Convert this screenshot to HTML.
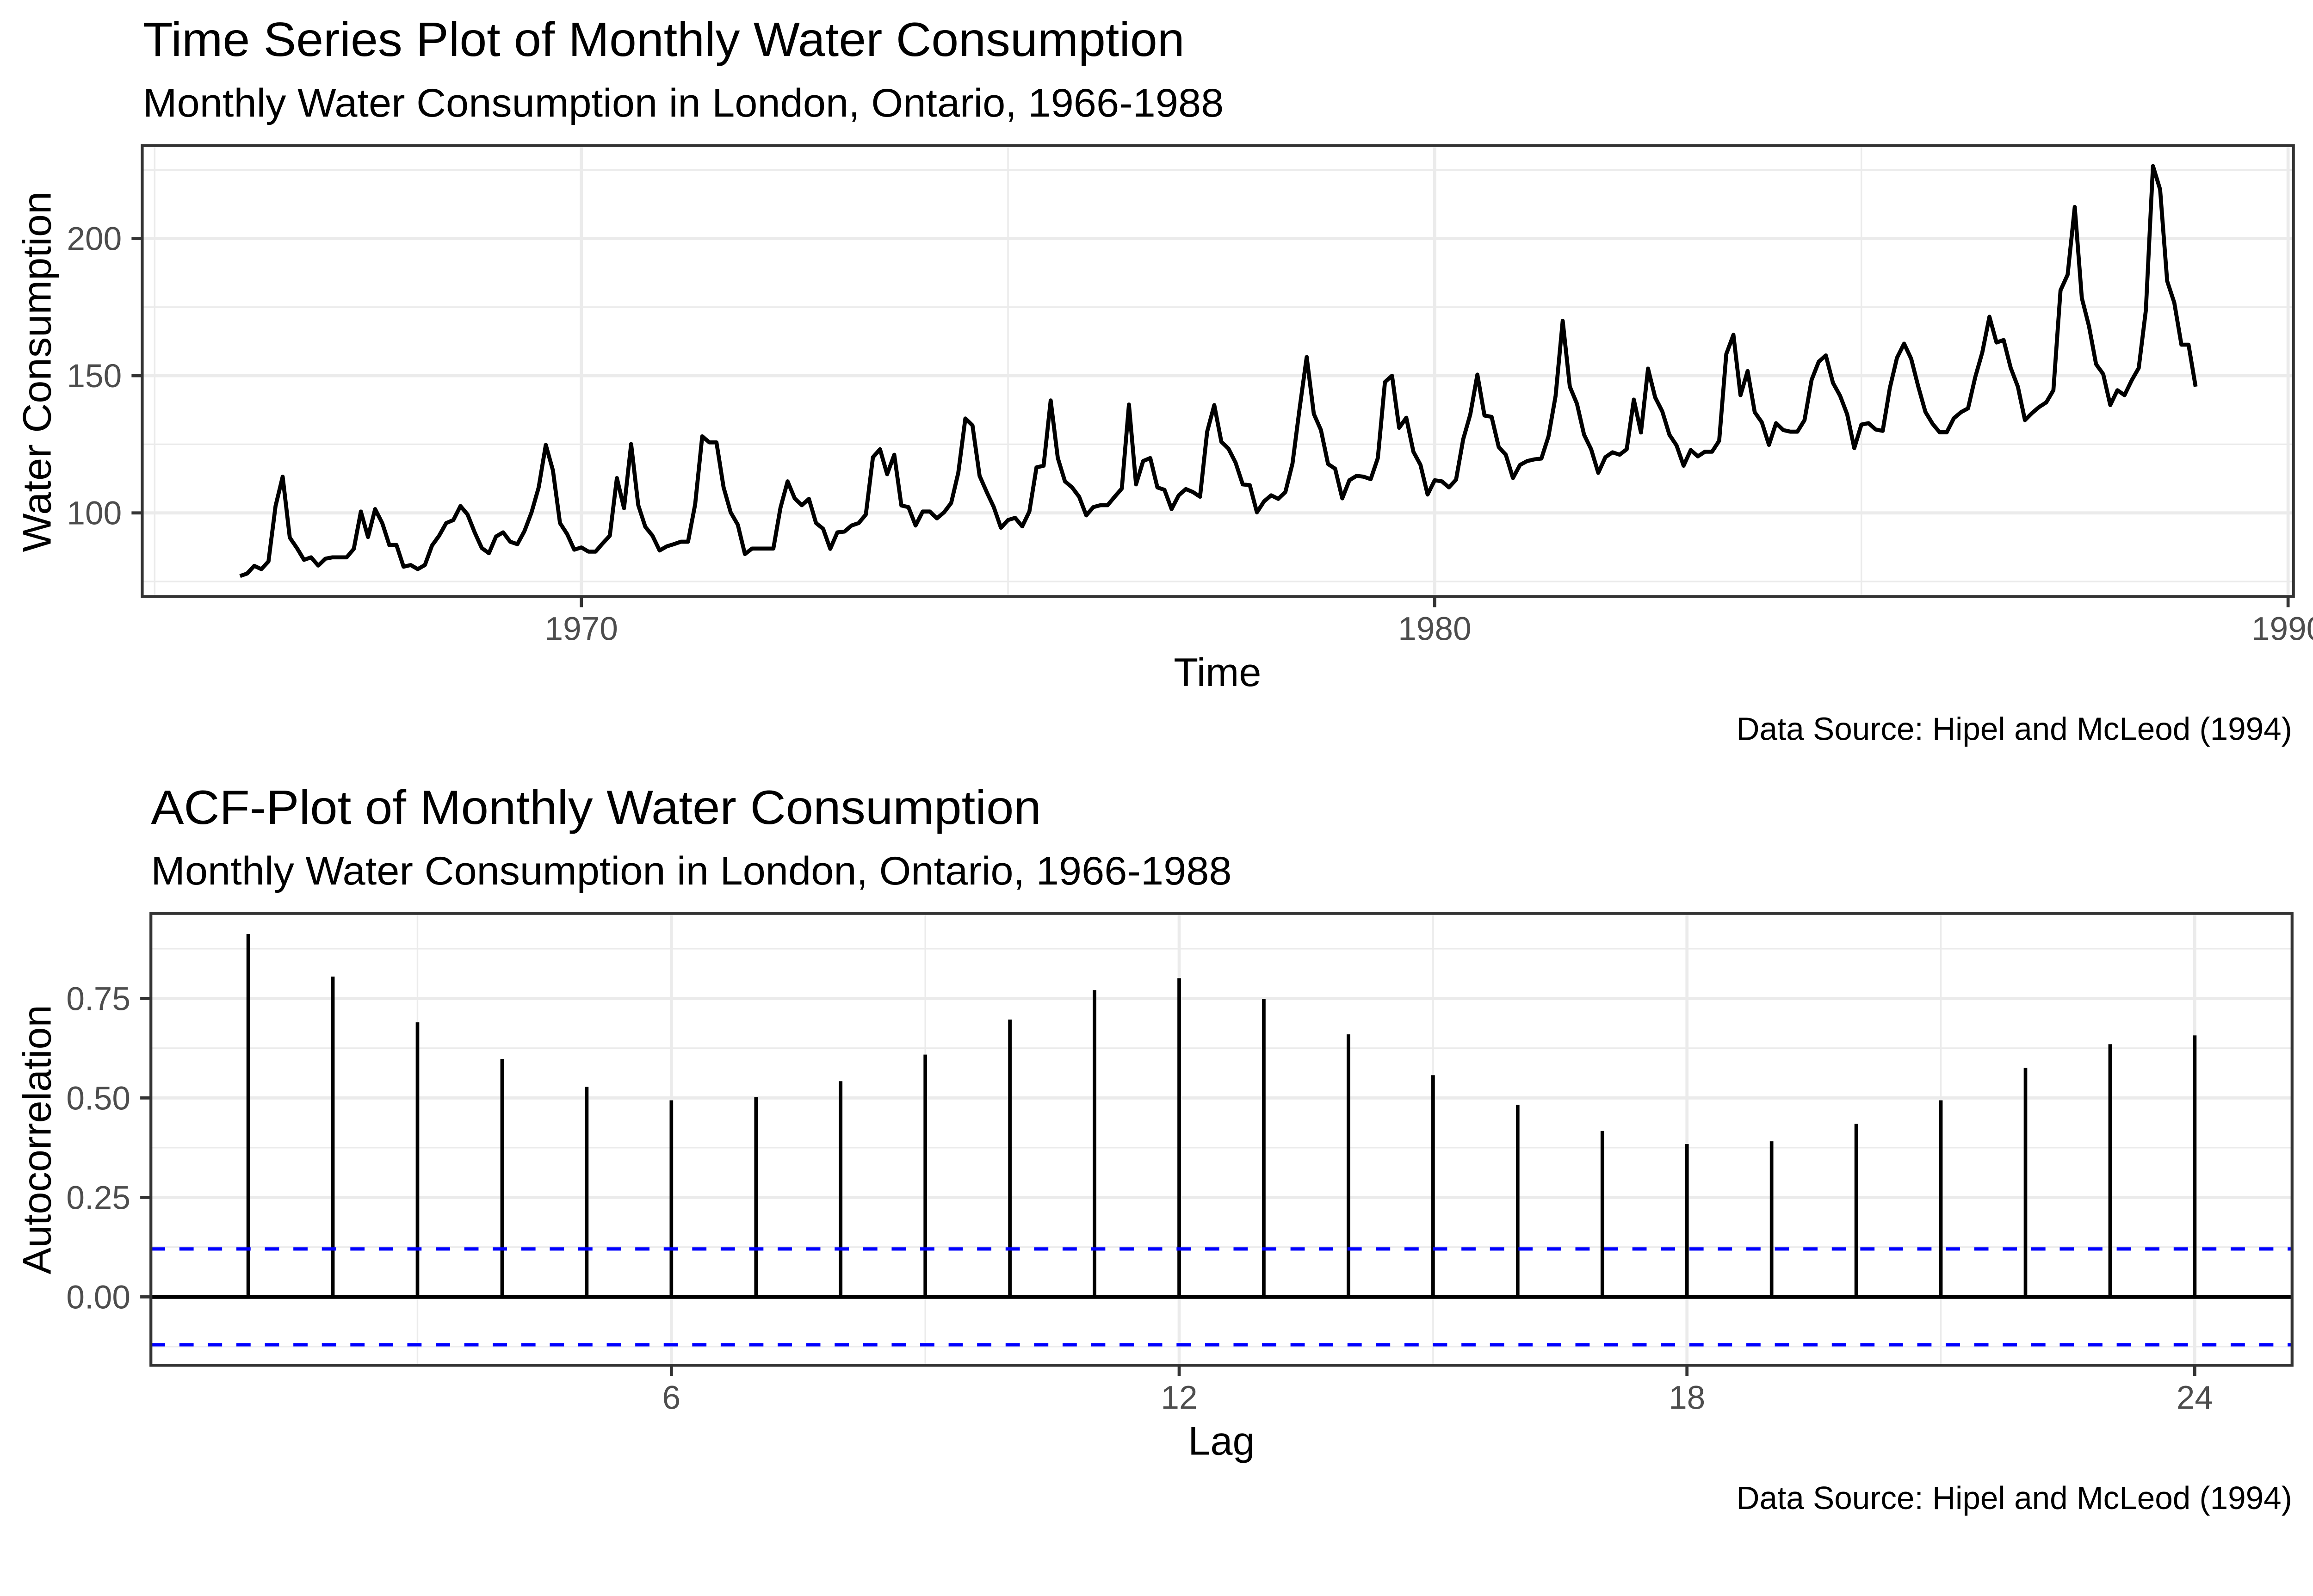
<!DOCTYPE html>
<html><head><meta charset="utf-8"><style>
html,body{margin:0;padding:0;background:#fff;overflow:hidden;}
svg{display:block;font-family:"Liberation Sans",Arial,sans-serif;width:100vw;height:66.3972vw;}
</style></head><body>
<svg id="chart" xmlns="http://www.w3.org/2000/svg" viewBox="0 0 5196 3450" preserveAspectRatio="none">
<rect x="0" y="0" width="5196" height="3450" fill="#fff"/>
<g id="top"></g>
<g id="bot"></g>
<text x="321" y="126" font-size="108" fill="#000" textLength="2340" lengthAdjust="spacingAndGlyphs">Time Series Plot of Monthly Water Consumption</text>
<text x="321" y="262" font-size="90" fill="#000" textLength="2428" lengthAdjust="spacingAndGlyphs">Monthly Water Consumption in London, Ontario, 1966-1988</text>
<text transform="translate(114,835) rotate(-90)" text-anchor="middle" font-size="90" fill="#000" textLength="810" lengthAdjust="spacingAndGlyphs">Water Consumption</text>
<text x="2735" y="1541" text-anchor="middle" font-size="90" fill="#000">Time</text>
<text x="5149" y="1662" text-anchor="end" font-size="72" fill="#000">Data Source: Hipel and McLeod (1994)</text>
<text x="339" y="1851" font-size="108" fill="#000" textLength="2000" lengthAdjust="spacingAndGlyphs">ACF-Plot of Monthly Water Consumption</text>
<text x="339" y="1987" font-size="90" fill="#000" textLength="2428" lengthAdjust="spacingAndGlyphs">Monthly Water Consumption in London, Ontario, 1966-1988</text>
<text transform="translate(114,2560) rotate(-90)" text-anchor="middle" font-size="90" fill="#000">Autocorrelation</text>
<text x="2744" y="3268" text-anchor="middle" font-size="90" fill="#000">Lag</text>
<text x="5149" y="3390" text-anchor="end" font-size="72" fill="#000">Data Source: Hipel and McLeod (1994)</text>
</svg>
<script>
const waterValues = [77.0,77.9,80.7,79.5,82.3,102.5,113.2,91,87.2,82.9,83.8,80.8,
83.3,83.8,83.8,83.8,86.9,100.5,91.2,101.4,96.3,88.3,88.3,80.4,
81,79.5,81,88.1,91.7,96.3,97.4,102.5,99.4,92.9,87.2,85.3,
91.4,92.9,89.5,88.6,93.4,100.2,109.3,124.8,115.5,96.3,92.3,86.6,
87.4,85.9,85.9,88.9,91.7,112.7,101.7,125.1,102.8,94.9,91.7,86.3,
87.8,88.6,89.5,89.5,103.1,127.9,125.7,125.7,109.3,100.2,95.7,85,
87,87,87,87,101.9,111.5,105.3,102.8,105.1,96.3,94.2,86.9,
92.9,93.2,95.4,96.3,99.4,120.3,123.2,114.1,121.2,102.7,102.1,95.4,
100.5,100.5,98,100.2,103.6,114.6,134.4,131.9,113.5,107.6,102.1,94.6,
97.4,98.2,95.1,100.5,116.6,117.2,141,120,111.5,109.3,105.9,99.1,
102.1,102.8,102.8,105.9,108.9,139.5,110.4,118.9,120,109.3,108.4,101.4,
106.4,108.7,107.6,105.9,129.6,139.3,125.9,123.4,118.3,110.4,110.1,100.2,
104.2,106.4,105.1,107.6,118,138.1,156.8,136.1,130.2,117.8,116.1,105.3,
111.9,113.5,113.2,112.3,120,147.7,150,131,134.7,122.3,117.5,106.7,
111.9,111.5,109.3,112.1,126.8,135.9,150.4,135.5,135,124,121.2,112.7,
117.5,118.9,119.5,119.8,127.9,142.7,170,146,139.8,128.5,123.2,114.6,
120.3,122.1,121.2,123.2,141.3,129.3,152.6,142.1,137,128.5,124.6,117.2,
122.9,120.6,122.3,122.3,126.3,157.9,164.9,142.9,151.7,136.7,133,124.8,
132.7,130.2,129.6,129.6,133.8,148.5,155.1,157.4,147.4,142.7,135.9,123.6,
132.2,132.7,130.4,129.9,145.5,156.5,161.7,156.2,146,136.8,132.5,129.4,
129.4,134.5,136.7,138.1,149.4,158.5,171.5,162.1,163,152.8,146,133.8,
136.4,138.6,140.3,144.7,181.1,186.8,211.5,178.3,168.1,154.2,150.6,139.3,
144.7,142.9,148.3,152.8,173.8,226.4,217.9,184.5,176.6,161.3,161.3,146];
const startYear = 1966;
const tsYTicks = [100,150,200];
const tsYMinor = [75,125,175,225];
const tsXTicks = [1970,1980,1990];
const tsXMinor = [1965,1975,1985];

const acfLags = [1,2,3,4,5,6,7,8,9,10,11,12,13,14,15,16,17,18,19,20,21,22,23,24];
const acfValues = [0.912,0.805,0.69,0.598,0.528,0.494,0.502,0.542,0.609,0.697,0.771,0.801,0.749,0.66,0.557,0.483,0.417,0.384,0.391,0.435,0.494,0.576,0.635,0.657];
const acfBound = [0.1204];
const acfYTicks = [0,0.25,0.5,0.75];
const acfYTickLabels = ["0.00","0.25","0.50","0.75"];
const acfYMinor = [-0.125,0.125,0.375,0.625,0.875];
const acfXTicks = [6,12,18,24];
const acfXMinor = [3,9,15,21];

const NS="http://www.w3.org/2000/svg";
function mk(parent,tag,attrs){const e=document.createElementNS(NS,tag);for(const k in attrs)e.setAttribute(k,attrs[k]);parent.appendChild(e);return e;}

// ---- top panel ----
(function(){
  const g=document.getElementById('top');
  const L=319.5,R=5152,T=327,B=1340;
  const n=waterValues.length;
  const x0=startYear, x1=startYear+(n-1)/12, xr=x1-x0;
  const xmin=x0-0.05*xr, xmax=x1+0.05*xr;
  let lo=Math.min(...waterValues), hi=Math.max(...waterValues); const yr=hi-lo;
  const ymin=lo-0.05*yr, ymax=hi+0.05*yr;
  const X=v=>L+(v-xmin)/(xmax-xmin)*(R-L);
  const Y=v=>B-(v-ymin)/(ymax-ymin)*(B-T);
  mk(g,'rect',{x:L,y:T,width:R-L,height:B-T,fill:'#fff'});
  tsYMinor.forEach(v=>{if(v>ymin&&v<ymax){const e=mk(g,'line',{x1:L,x2:R,y1:Y(v),y2:Y(v),stroke:'#ebebeb','stroke-width':3.5});

}});
  tsXMinor.forEach(v=>{if(v>xmin&&v<xmax){const e=mk(g,'line',{x1:X(v),x2:X(v),y1:T,y2:B,stroke:'#ebebeb','stroke-width':3.5});

}});
  tsYTicks.forEach(v=>{const y=Y(v);
    const e=mk(g,'line',{x1:L,x2:R,y1:y,y2:y,stroke:'#ebebeb','stroke-width':7});


    const t=mk(g,'line',{x1:L-24,x2:L,y1:y,y2:y,stroke:'#333','stroke-width':7});


    const tx=mk(g,'text',{x:L-46,y:y+26,'text-anchor':'end','font-size':74,fill:'#4d4d4d'});tx.textContent=v;

});
  tsXTicks.forEach(v=>{const x=X(v);
    if(v<xmax){const e=mk(g,'line',{x1:x,x2:x,y1:T,y2:B,stroke:'#ebebeb','stroke-width':7});

}
    const t=mk(g,'line',{x1:x,x2:x,y1:B,y2:B+24,stroke:'#333','stroke-width':7});


    const tx=mk(g,'text',{x:x,y:B+98,'text-anchor':'middle','font-size':74,fill:'#4d4d4d'});tx.textContent=v;

});
  const pts=waterValues.map((v,i)=>X(x0+i/12).toFixed(1)+','+Y(v).toFixed(1)).join(' ');
  const line=mk(g,'polyline',{points:pts,fill:'none',stroke:'#000','stroke-width':9,'stroke-linejoin':'round'});


  const b=mk(g,'rect',{x:L,y:T,width:R-L,height:B-T,fill:'none',stroke:'#333','stroke-width':6.5});


})();

// ---- ACF panel ----
(function(){
  const g=document.getElementById('bot');
  const L=339,R=5149,T=2052,B=3067;
  const lmin=Math.min(...acfLags), lmax=Math.max(...acfLags), lr=lmax-lmin;
  const xmin=lmin-0.05*lr, xmax=lmax+0.05*lr;
  const lo=Math.min(0,-acfBound[0],...acfValues), hi=Math.max(...acfValues), yr=hi-lo;
  const ymin=lo-0.05*yr, ymax=hi+0.05*yr;
  const X=v=>L+(v-xmin)/(xmax-xmin)*(R-L);
  const Y=v=>B-(v-ymin)/(ymax-ymin)*(B-T);
  mk(g,'rect',{x:L,y:T,width:R-L,height:B-T,fill:'#fff'});
  acfYMinor.forEach(v=>{if(v>ymin&&v<ymax){const e=mk(g,'line',{x1:L,x2:R,y1:Y(v),y2:Y(v),stroke:'#ebebeb','stroke-width':3.5});

}});
  acfXMinor.forEach(v=>{const e=mk(g,'line',{x1:X(v),x2:X(v),y1:T,y2:B,stroke:'#ebebeb','stroke-width':3.5});

});
  acfYTicks.forEach((v,i)=>{const y=Y(v);
    const e=mk(g,'line',{x1:L,x2:R,y1:y,y2:y,stroke:'#ebebeb','stroke-width':7});


    const t=mk(g,'line',{x1:L-24,x2:L,y1:y,y2:y,stroke:'#333','stroke-width':7});


    const tx=mk(g,'text',{x:L-46,y:y+26,'text-anchor':'end','font-size':74,fill:'#4d4d4d'});tx.textContent=acfYTickLabels[i];

});
  acfXTicks.forEach(v=>{const x=X(v);
    const e=mk(g,'line',{x1:x,x2:x,y1:T,y2:B,stroke:'#ebebeb','stroke-width':7});


    const t=mk(g,'line',{x1:x,x2:x,y1:B,y2:B+24,stroke:'#333','stroke-width':7});


    const tx=mk(g,'text',{x:x,y:B+98,'text-anchor':'middle','font-size':74,fill:'#4d4d4d'});tx.textContent=v;

});
  acfLags.forEach((lag,i)=>{const x=X(lag);
    const s=mk(g,'line',{x1:x,x2:x,y1:Y(0),y2:Y(acfValues[i]),stroke:'#000','stroke-width':8});

});
  const z=mk(g,'line',{x1:L,x2:R,y1:Y(0),y2:Y(0),stroke:'#000','stroke-width':9});


  [acfBound[0],-acfBound[0]].forEach(v=>{
    const d=mk(g,'line',{x1:L,x2:R,y1:Y(v),y2:Y(v),stroke:'#0000ff','stroke-width':7.5,'stroke-dasharray':'32 32'});

});
  const b=mk(g,'rect',{x:L,y:T,width:R-L,height:B-T,fill:'none',stroke:'#333','stroke-width':6.5});


})();
</script>
</body></html>
